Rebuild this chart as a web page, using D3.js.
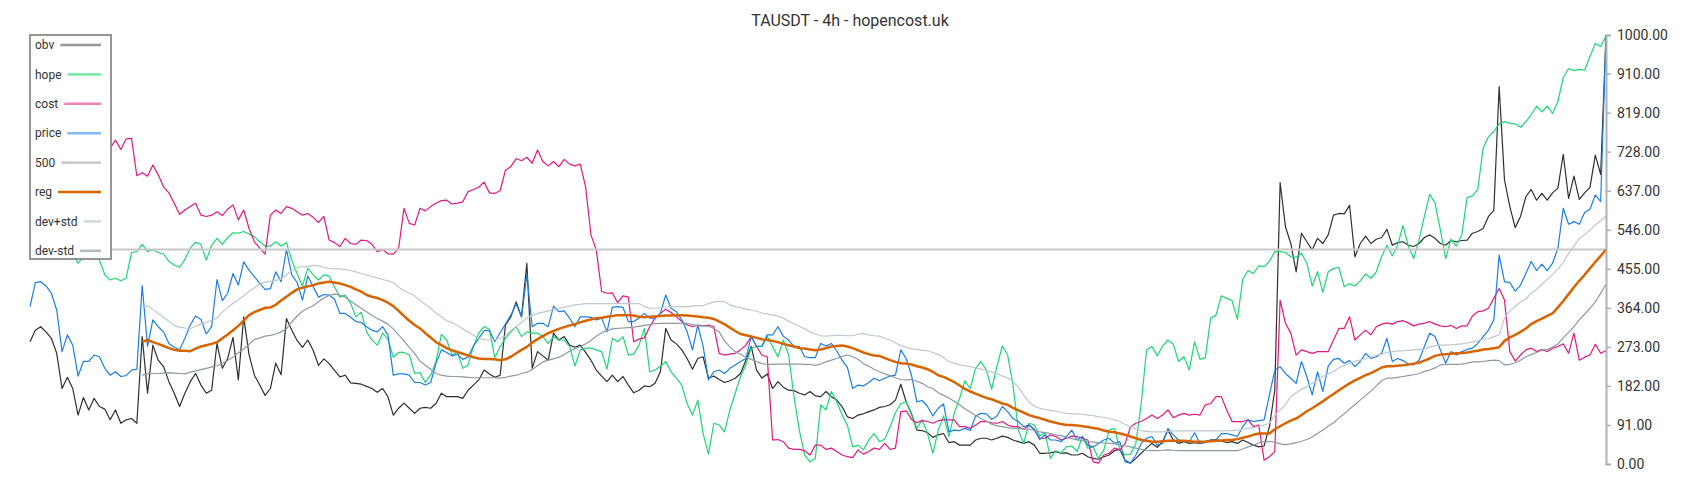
<!DOCTYPE html>
<html>
<head>
<meta charset="utf-8">
<script src="https://cdn.jsdelivr.net/npm/d3@7"></script>
<style>
  html, body { margin: 0; padding: 0; background: #fff; }
  svg { display: block; font-family: Roboto, "Noto Sans", sans-serif; }
</style>
</head>
<body>
<svg class="chart" width="1700" height="500"></svg>
<script>
const title = 'TAUSDT - 4h - hopencost.uk';
const tickValues = [0, 91, 182, 273, 364, 455, 546, 637, 728, 819, 910, 1000];
const refLevel = 500;

const obv = [
  285, 312, 320, 308, 293, 258, 176, 202, 176, 114,
  155, 126, 153, 134, 128, 103, 126, 95, 103, 106,
  95, 297, 165, 277, 242, 227, 192, 165, 134, 165,
  192, 211, 184, 165, 172, 281, 223, 246, 295, 196,
  343, 255, 207, 184, 160, 176, 235, 208, 339, 312,
  288, 272, 289, 265, 230, 245, 234, 218, 203, 207,
  189, 188, 186, 181, 176, 167, 176, 157, 114, 130,
  142, 130, 118, 130, 132, 130, 141, 165, 157, 157,
  157, 153, 172, 184, 196, 219, 210, 202, 207, 324,
  343, 378, 343, 468, 223, 262, 252, 242, 305, 289,
  297, 277, 272, 277, 260, 242, 219, 205, 192, 207,
  192, 204, 184, 166, 172, 182, 180, 188, 215, 316,
  289, 280, 266, 246, 221, 246, 250, 200, 205, 197,
  190, 194, 200, 211, 242, 274, 219, 200, 210, 176,
  192, 179, 172, 171, 165, 161, 169, 159, 157, 169,
  157, 149, 134, 110, 106, 114, 117, 122, 126, 132,
  134, 138, 149, 186, 145, 117, 79, 78, 73, 62,
  68, 71, 50, 52, 44, 44, 44, 56, 60, 60,
  56, 60, 65, 62, 56, 52, 48, 52, 44, 25,
  25, 26, 29, 25, 26, 21, 21, 25, 17, 13,
  11, 17, 21, 31, 34, 8, 2, 13, 25, 37,
  48, 39, 52, 79, 56, 48, 52, 48, 50, 48,
  52, 56, 57, 54, 50, 52, 48, 56, 50, 44,
  40, 42, 87, 172, 656, 553, 514, 448, 538, 518,
  499, 526, 514, 534, 580, 584, 583, 603, 483, 514,
  531, 514, 524, 528, 547, 510, 516, 518, 510, 507,
  514, 528, 534, 526, 514, 510, 521, 518, 521, 522,
  538, 542, 549, 577, 591, 880, 662, 600, 551, 577,
  623, 640, 615, 631, 615, 632, 643, 722, 619, 671,
  617, 632, 645, 720, 675, 1000
];

const hope = [
  520, 530, 545, 540, 525, 515, 505, 495, 490, 468,
  483, 498, 505, 475, 441, 429, 433, 427, 433, 493,
  495, 512, 495, 500, 493, 489, 472, 464, 458, 477,
  503, 517, 512, 475, 510, 526, 512, 528, 539, 538,
  542, 536, 530, 518, 508, 508, 518, 508, 516, 475,
  444, 415, 456, 441, 429, 441, 438, 413, 389, 394,
  375, 343, 354, 308, 289, 277, 305, 291, 249, 260,
  260, 254, 211, 213, 190, 207, 239, 302, 289, 254,
  262, 223, 231, 274, 305, 320, 314, 248, 274, 293,
  308, 320, 297, 308, 305, 305, 297, 281, 297, 289,
  289, 274, 228, 266, 270, 270, 266, 262, 221, 293,
  285, 297, 254, 256, 277, 316, 215, 219, 228, 239,
  215, 200, 184, 141, 114, 149, 71, 23, 95, 91,
  75, 126, 165, 204, 231, 270, 274, 274, 297, 274,
  250, 289, 254, 157, 79, 21, 5, 13, 138, 126,
  169, 145, 115, 90, 40, 44, 33, 56, 71, 52,
  58, 87, 120, 141, 145, 114, 83, 103, 71, 25,
  79, 112, 64, 118, 153, 194, 176, 223, 239, 219,
  174, 228, 275, 254, 184, 79, 48, 95, 91, 65,
  73, 13, 31, 26, 40, 42, 29, 64, 37, 40,
  13, 33, 79, 83, 33, 21, 23, 48, 141, 266,
  274, 252, 275, 289, 279, 239, 250, 219, 285, 244,
  248, 340, 347, 392, 386, 381, 337, 430, 451, 444,
  462, 460, 472, 495, 495, 493, 483, 482, 491, 468,
  415, 448, 400, 448, 456, 458, 413, 420, 415, 427,
  443, 433, 448, 483, 510, 485, 510, 556, 508, 479,
  522, 577, 629, 608, 545, 479, 524, 508, 534, 621,
  625, 640, 736, 763, 775, 793, 798, 794, 793, 785,
  798, 814, 834, 821, 834, 817, 845, 901, 922, 917,
  920, 918, 950, 980, 973, 998
];

const cost = [
  720, 735, 745, 740, 752, 760, 748, 740, 755, 762,
  750, 742, 758, 745, 752, 736, 755, 733, 758, 759,
  672, 679, 671, 697, 674, 646, 632, 608, 582, 592,
  600, 608, 580, 577, 580, 588, 579, 594, 604, 569,
  592, 549, 518, 503, 489, 580, 592, 584, 600, 596,
  588, 580, 584, 575, 563, 577, 522, 516, 507, 526,
  514, 512, 522, 521, 512, 495, 500, 490, 489, 503,
  596, 561, 557, 596, 590, 600, 608, 614, 615, 606,
  608, 611, 635, 640, 645, 657, 632, 631, 637, 685,
  693, 712, 707, 715, 701, 732, 705, 695, 705, 693,
  710, 699, 695, 699, 646, 534, 499, 402, 398, 399,
  376, 392, 389, 285, 291, 294, 320, 340, 351, 361,
  353, 343, 332, 324, 320, 324, 322, 324, 320, 258,
  254, 256, 258, 266, 277, 297, 274, 254, 250, 56,
  57, 52, 37, 34, 34, 31, 21, 44, 44, 34,
  37, 29, 21, 17, 15, 33, 23, 29, 37, 34,
  48, 34, 37, 122, 124, 104, 96, 101, 99, 95,
  101, 103, 103, 103, 87, 87, 83, 91, 99, 99,
  96, 95, 99, 91, 87, 87, 81, 91, 79, 60,
  60, 68, 64, 56, 60, 65, 64, 60, 56, 5,
  2, 21, 25, 37, 33, 48, 87, 95, 99, 106,
  114, 106, 114, 126, 108, 114, 118, 114, 116, 114,
  138, 141, 157, 157, 126, 99, 99, 99, 103, 87,
  91, 9, 17, 29, 382, 328, 305, 254, 266, 262,
  258, 262, 262, 262, 289, 316, 316, 343, 289, 301,
  312, 301, 320, 326, 329, 326, 332, 334, 329, 322,
  326, 328, 332, 326, 322, 320, 323, 316, 322, 322,
  345, 355, 357, 363, 386, 409, 382, 262, 240, 254,
  266, 270, 262, 267, 262, 270, 274, 280, 258, 305,
  242, 249, 254, 279, 258, 264
];

const price = [
  367, 423, 425, 415, 398, 359, 262, 301, 277, 205,
  239, 239, 254, 250, 223, 207, 215, 204, 206, 219,
  221, 416, 274, 336, 320, 308, 281, 272, 266, 293,
  324, 345, 337, 303, 320, 430, 381, 398, 444, 417,
  471, 452, 437, 421, 407, 409, 448, 425, 500, 441,
  423, 382, 438, 413, 389, 395, 394, 384, 351, 351,
  342, 332, 330, 320, 312, 308, 320, 301, 207, 210,
  210, 207, 190, 190, 184, 190, 235, 266, 260, 252,
  256, 244, 249, 275, 293, 311, 311, 285, 306, 326,
  347, 373, 343, 441, 320, 328, 328, 320, 368, 355,
  357, 340, 320, 343, 343, 342, 336, 340, 308, 365,
  367, 365, 332, 332, 340, 351, 340, 340, 351, 394,
  363, 355, 336, 308, 266, 324, 274, 196, 215, 219,
  211, 223, 231, 239, 246, 297, 274, 275, 301, 301,
  320, 298, 289, 274, 274, 250, 248, 248, 281, 275,
  281, 264, 242, 225, 176, 184, 182, 190, 200, 194,
  200, 205, 207, 266, 246, 207, 145, 148, 134, 112,
  130, 140, 75, 79, 78, 83, 78, 112, 118, 117,
  104, 112, 134, 122, 106, 99, 87, 91, 81, 57,
  68, 56, 56, 52, 64, 79, 56, 64, 44, 40,
  48, 56, 60, 48, 52, 5, 2, 21, 48, 60,
  64, 44, 48, 83, 68, 56, 52, 52, 73, 48,
  50, 56, 56, 71, 71, 68, 64, 87, 103, 99,
  101, 103, 161, 218, 227, 211, 200, 188, 239, 204,
  161, 215, 169, 228, 244, 246, 235, 241, 227, 239,
  258, 246, 250, 258, 293, 239, 246, 241, 233, 231,
  242, 274, 305, 297, 266, 235, 262, 254, 262, 267,
  270, 281, 297, 312, 336, 487, 425, 423, 403, 417,
  444, 472, 451, 466, 451, 468, 503, 596, 559, 565,
  559, 586, 594, 627, 612, 1000
];

const gap = [null, null, null, null, null, null, null, null, null, null,
  null, null, null, null, null, null, null, null, null, null, null];

const reg = gap.concat([
  285, 289, 284, 280, 275, 270, 266, 264, 264,
  263, 269, 274, 277, 280, 284, 293, 302, 312, 322,
  334, 347, 354, 359, 364, 365, 371, 381, 390, 399,
  407, 411, 414, 417, 421, 423, 425, 423, 421, 417,
  413, 407, 402, 394, 390, 387, 382, 376, 368, 357,
  345, 334, 324, 316, 305, 295, 284, 277, 270, 265,
  261, 257, 253, 249, 246, 245, 245, 244, 242, 244,
  250, 258, 266, 273, 283, 291, 298, 305, 310, 315,
  319, 323, 326, 330, 334, 337, 340, 341, 343, 345,
  347, 347, 347, 346, 343, 342, 343, 344, 345, 346,
  346, 347, 347, 346, 345, 344, 342, 341, 338, 332,
  326, 318, 310, 303, 300, 297, 294, 291, 289, 287,
  284, 280, 277, 274, 270, 269, 267, 265, 267, 270,
  274, 275, 276, 274, 270, 265, 260, 256, 253, 252,
  247, 242, 238, 235, 234, 232, 228, 225, 221, 215,
  207, 203, 197, 191, 183, 175, 169, 164, 159, 154,
  151, 146, 141, 138, 131, 125, 120, 114, 110, 107,
  103, 99, 96, 93, 91, 91, 90, 88, 86, 84,
  82, 78, 75, 74, 71, 68, 64, 60, 56, 54,
  52, 52, 53, 54, 54, 54, 54, 53, 52, 52,
  52, 53, 54, 55, 56, 56, 58, 61, 64, 68,
  71, 71, 71, 81, 88, 95, 101, 106, 114, 123,
  130, 138, 146, 155, 163, 172, 180, 188, 195, 201,
  207, 212, 218, 225, 228, 228, 229, 230, 232, 234,
  236, 241, 246, 252, 255, 256, 257, 258, 259, 260,
  262, 264, 267, 268, 270, 272, 287, 295, 301, 308,
  316, 326, 333, 339, 345, 351, 365, 380, 396, 412,
  427, 441, 456, 471, 485, 500
]);

const devUp = gap.concat([
  365, 369, 361, 351, 342, 333, 323, 319, 317,
  316, 321, 326, 330, 335, 340, 354, 365, 374, 383,
  392, 402, 411, 419, 424, 425, 428, 431, 441, 451,
  458, 460, 460, 463, 462, 458, 456, 455, 455, 453,
  451, 448, 444, 441, 437, 434, 430, 427, 423, 412,
  404, 398, 392, 381, 372, 363, 352, 343, 334, 330,
  323, 315, 308, 300, 293, 290, 289, 289, 293, 299,
  311, 320, 330, 340, 347, 351, 354, 357, 360, 363,
  365, 368, 371, 372, 374, 374, 374, 374, 374, 374,
  374, 374, 374, 374, 374, 367, 363, 363, 364, 366,
  367, 367, 367, 367, 368, 369, 369, 374, 378, 379,
  378, 371, 367, 364, 361, 359, 356, 352, 350, 347,
  345, 340, 333, 327, 321, 315, 308, 303, 299, 298,
  299, 300, 300, 299, 299, 303, 304, 301, 299, 298,
  293, 289, 282, 276, 272, 269, 267, 265, 264, 260,
  255, 248, 239, 235, 231, 229, 227, 224, 221, 218,
  214, 210, 205, 201, 192, 179, 161, 144, 135, 130,
  127, 125, 123, 120, 118, 117, 117, 116, 114, 113,
  110, 109, 106, 103, 99, 92, 87, 82, 78, 76,
  75, 75, 75, 76, 77, 77, 77, 77, 77, 77,
  77, 77, 77, 77, 78, 78, 79, 81, 83, 85,
  87, 91, 95, 113, 126, 138, 157, 166, 174, 180,
  188, 195, 204, 210, 215, 224, 230, 235, 240, 242,
  246, 250, 253, 256, 260, 262, 263, 264, 265, 266,
  267, 268, 273, 276, 277, 277, 278, 279, 280, 282,
  284, 287, 291, 292, 297, 301, 340, 357, 367, 378,
  384, 398, 407, 419, 430, 442, 455, 470, 491, 508,
  526, 535, 545, 557, 567, 578
]);

const devDown = gap.concat([
  207, 210, 211, 211, 212, 213, 212, 211, 210,
  214, 217, 220, 223, 226, 229, 235, 241, 249, 259,
  268, 279, 290, 294, 298, 300, 303, 308, 315, 331,
  345, 356, 363, 369, 378, 387, 393, 396, 394, 389,
  380, 371, 363, 355, 346, 339, 333, 326, 315, 301,
  287, 272, 258, 240, 230, 221, 211, 207, 205, 204,
  204, 203, 202, 201, 201, 201, 201, 201, 200, 202,
  205, 207, 211, 214, 220, 229, 238, 242, 245, 249,
  255, 263, 269, 274, 280, 288, 298, 306, 311, 315,
  316, 317, 318, 319, 321, 323, 325, 327, 328, 328,
  328, 328, 328, 328, 325, 322, 322, 321, 316, 308,
  287, 273, 262, 256, 249, 244, 239, 234, 232, 232,
  233, 233, 233, 233, 233, 232, 232, 230, 233, 238,
  242, 246, 251, 254, 250, 244, 234, 228, 221, 215,
  210, 206, 201, 197, 196, 197, 193, 188, 180, 176,
  166, 160, 154, 146, 138, 129, 121, 113, 106, 100,
  93, 89, 87, 85, 83, 83, 82, 81, 78, 75,
  73, 71, 68, 66, 62, 59, 57, 54, 53, 51,
  50, 49, 48, 47, 44, 42, 40, 37, 34, 32,
  31, 31, 32, 33, 32, 31, 31, 31, 31, 31,
  31, 31, 31, 31, 31, 31, 31, 35, 40, 44,
  49, 52, 52, 51, 47, 45, 47, 50, 53, 57,
  63, 71, 79, 88, 96, 107, 117, 128, 138, 149,
  160, 170, 182, 194, 200, 200, 202, 204, 206, 208,
  211, 216, 219, 224, 231, 232, 232, 232, 233, 235,
  238, 238, 239, 241, 242, 241, 231, 232, 236, 242,
  250, 255, 260, 265, 267, 272, 280, 294, 307, 320,
  336, 349, 363, 378, 398, 419
]);

const startApp = () => {
  const svg = d3.select('.chart');
  const n = obv.length;

  const x = d3.scalePoint().domain(d3.range(n)).range([30, 1606]);
  const y = d3.scaleLinear().domain([0, 1000]).range([464, 35]);

  const series = [
    { name: 'obv', values: obv, color: '#2f2f2f', key: '#999999', width: 1.2 },
    { name: 'hope', values: hope, color: '#1bd873', key: '#82e9ab', width: 1.2 },
    { name: 'cost', values: cost, color: '#e3177f', key: '#ee82bb', width: 1.2 },
    { name: 'price', values: price, color: '#1c7fe0', key: '#80baef', width: 1.2 },
    { name: '500', values: d3.range(n).map(() => refLevel), color: '#c8c8c8', key: '#cccccc', width: 2 },
    { name: 'reg', values: reg, color: '#d86400', key: '#d86400', width: 2.5 },
    { name: 'dev+std', values: devUp, color: '#bec8ce', key: '#d3d9dc', width: 1.2 },
    { name: 'dev-std', values: devDown, color: '#8c9aa4', key: '#b0bbc0', width: 1.2 }
  ];

  const line = d3.line()
    .defined(d => d != null)
    .x((d, i) => x(i))
    .y(d => y(d));

  svg.append('g')
    .attr('class', 'lines')
    .selectAll('path')
    .data(series)
    .enter()
    .append('path')
    .attr('fill', 'none')
    .attr('stroke', d => d.color)
    .attr('stroke-width', d => d.width)
    .attr('stroke-linejoin', 'round')
    .attr('d', d => line(d.values));

  const axis = svg.append('g')
    .attr('transform', 'translate(1606,0)')
    .call(d3.axisRight(y)
      .tickValues(tickValues)
      .tickFormat(d3.format('.2f'))
      .tickSize(5)
      .tickPadding(6));

  axis.select('.domain').attr('stroke', '#a8b3bc').attr('stroke-width', 2);
  axis.selectAll('.tick line').attr('stroke', '#a8b3bc').attr('stroke-width', 1.5);
  axis.selectAll('.tick text')
    .attr('fill', '#333')
    .style('font-size', '14px')
    .style('font-family', 'Roboto, sans-serif');

  svg.append('text')
    .attr('x', 850)
    .attr('y', 26)
    .attr('text-anchor', 'middle')
    .attr('fill', '#333')
    .style('font-size', '16px')
    .text(title);

  // legend box sits over the lines
  const legend = svg.append('g').attr('class', 'legend');
  legend.append('rect')
    .attr('x', 30)
    .attr('y', 35)
    .attr('width', 81)
    .attr('height', 224)
    .attr('fill', '#fff')
    .attr('stroke', '#8a8a8a')
    .attr('stroke-width', 1.8);

  const item = legend.selectAll('g.item')
    .data(series)
    .enter()
    .append('g')
    .attr('class', 'item')
    .attr('transform', (d, i) => `translate(0,${45 + i * 29.4})`);

  item.append('text')
    .attr('x', 35)
    .attr('dy', '0.35em')
    .attr('fill', '#333')
    .style('font-size', '12px')
    .text(d => d.name);

  item.each(function (d) {
    const g = d3.select(this);
    const w = g.select('text').node().getComputedTextLength();
    g.append('line')
      .attr('x1', 35 + w + 6)
      .attr('x2', 101)
      .attr('stroke', d.key)
      .attr('stroke-width', 2.6);
  });
};

window.onload = startApp;
</script>
</body>
</html>
